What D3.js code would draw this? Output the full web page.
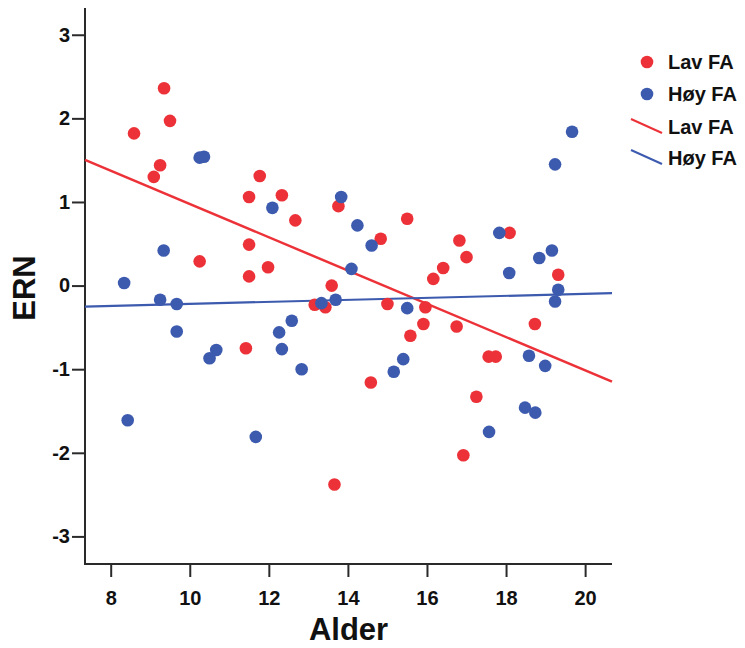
<!DOCTYPE html>
<html>
<head>
<meta charset="utf-8">
<script src="https://cdn.jsdelivr.net/npm/d3@7"></script>
<style>
  html, body { margin: 0; padding: 0; background: #fff; }
  svg { display: block; }
  text { font-family: "Liberation Sans", Arial, sans-serif; font-weight: bold; fill: #111; }
</style>
</head>
<body>
<svg id="chart" width="745" height="648"></svg>
<script>
// Lav FA group: age (Alder) and ERN
const lavAlder = [8.59, 9.35, 9.50, 9.25, 9.09, 10.25, 11.50, 11.77, 11.50, 11.50,
                  11.98, 12.33, 12.67, 11.42, 13.76, 14.83, 15.50, 13.59, 13.16, 13.43,
                  13.66, 15.00, 14.58, 15.96, 15.91, 15.58, 16.16, 16.41, 16.82, 17.00,
                  18.09, 19.32, 16.75, 18.73, 17.56, 17.74, 17.25, 16.92];
const lavERN   = [1.82, 2.36, 1.97, 1.44, 1.30, 0.29, 1.06, 1.31, 0.49, 0.11,
                  0.22, 1.08, 0.78, -0.75, 0.95, 0.56, 0.80, 0.00, -0.23, -0.26,
                  -2.38, -0.22, -1.16, -0.26, -0.46, -0.60, 0.08, 0.21, 0.54, 0.34,
                  0.63, 0.13, -0.49, -0.46, -0.85, -0.85, -1.33, -2.03];

// Høy FA group: age (Alder) and ERN
const hoyAlder = [8.34, 8.43, 9.25, 9.67, 9.67, 9.34, 10.25, 10.36, 10.67, 10.50,
                  11.67, 12.09, 12.26, 12.33, 12.58, 12.83, 13.33, 13.69, 13.83, 14.24,
                  14.60, 14.09, 15.16, 15.40, 15.50, 17.57, 17.83, 18.08, 18.58, 18.99,
                  18.48, 18.74, 18.84, 19.16, 19.24, 19.67, 19.32, 19.24];
const hoyERN   = [0.03, -1.61, -0.17, -0.22, -0.55, 0.42, 1.53, 1.54, -0.77, -0.87,
                  -1.81, 0.93, -0.56, -0.76, -0.42, -1.00, -0.21, -0.17, 1.06, 0.72,
                  0.48, 0.20, -1.03, -0.88, -0.27, -1.75, 0.63, 0.15, -0.84, -0.96,
                  -1.46, -1.52, 0.33, 0.42, 1.45, 1.84, -0.05, -0.19];

// Linear fit lines (intercept, slope) per group
const groupNames = ["Lav FA", "Høy FA"];
const fitIntercept = [2.966, -0.339];
const fitSlope = [-0.199, 0.012];

const xTicks = [8, 10, 12, 14, 16, 18, 20];
const yTicks = [-3, -2, -1, 0, 1, 2, 3];

const colors = ["#ec3238", "#3c5aae"];

const svg = d3.select("#chart");
const plotLeft = 85, plotRight = 612, plotTop = 8, plotBottom = 564;

const x = d3.scaleLinear().domain([7.35, 20.68]).range([plotLeft, plotRight]);
const y = d3.scaleLinear().domain([-3.33, 3.32]).range([plotBottom, plotTop]);

// Plain hyphen-minus for negative tick labels
const tickFmt = d => String(d);

// Axes
const xAxis = svg.append("g")
  .attr("transform", `translate(0,${plotBottom})`)
  .call(d3.axisBottom(x).tickValues(xTicks).tickFormat(tickFmt).tickSizeOuter(0).tickSize(13).tickPadding(14));
const yAxis = svg.append("g")
  .attr("transform", `translate(${plotLeft},0)`)
  .call(d3.axisLeft(y).tickValues(yTicks).tickFormat(tickFmt).tickSizeOuter(0).tickSize(13).tickPadding(2));

[xAxis, yAxis].forEach(g => {
  g.select(".domain").attr("stroke", "#2a2a2a").attr("stroke-width", 2);
  g.selectAll(".tick line").attr("stroke", "#2a2a2a").attr("stroke-width", 2);
  g.selectAll(".tick text")
    .attr("fill", "#111")
    .style("font-family", "'Liberation Sans', Arial, sans-serif")
    .style("font-weight", "bold")
    .style("font-size", "20px");
});
// Join both axis lines into a clean corner
yAxis.select(".domain").attr("d", `M0,${plotTop}V${plotBottom + 1}`);
xAxis.select(".domain").attr("d", `M${plotLeft - 1},0H${plotRight}`);

// Axis titles
svg.append("text")
  .attr("x", (plotLeft + plotRight) / 2)
  .attr("y", 640)
  .attr("text-anchor", "middle")
  .style("font-size", "31px")
  .text("Alder");
svg.append("text")
  .attr("transform", `translate(35,${(plotTop + plotBottom) / 2 + 2}) rotate(-90)`)
  .attr("text-anchor", "middle")
  .style("font-size", "31px")
  .text("ERN");

// Fit lines
const plot = svg.append("g");
const xd = x.domain();
fitIntercept.forEach((a, i) => {
  plot.append("line")
    .attr("x1", x(xd[0])).attr("y1", y(a + fitSlope[i] * xd[0]))
    .attr("x2", x(xd[1])).attr("y2", y(a + fitSlope[i] * xd[1]))
    .attr("stroke", colors[i])
    .attr("stroke-width", i === 0 ? 2.5 : 2.2);
});

// Points
const lavPts = lavAlder.map((v, i) => ({ x: v, y: lavERN[i] }));
const hoyPts = hoyAlder.map((v, i) => ({ x: v, y: hoyERN[i] }));
plot.selectAll("circle.lav").data(lavPts).join("circle")
  .attr("class", "lav")
  .attr("cx", d => x(d.x)).attr("cy", d => y(d.y)).attr("r", 6.3)
  .attr("fill", colors[0]);
plot.selectAll("circle.hoy").data(hoyPts).join("circle")
  .attr("class", "hoy")
  .attr("cx", d => x(d.x)).attr("cy", d => y(d.y)).attr("r", 6.3)
  .attr("fill", colors[1]);

// Legend
const legend = svg.append("g");
const legendRows = [
  { name: groupNames[0], color: colors[0], kind: "dot", cy: 62 },
  { name: groupNames[1], color: colors[1], kind: "dot", cy: 94 },
  { name: groupNames[0], color: colors[0], kind: "line", cy: 127 },
  { name: groupNames[1], color: colors[1], kind: "line", cy: 158 }
];
legendRows.forEach(r => {
  if (r.kind === "dot") {
    legend.append("circle").attr("cx", 647).attr("cy", r.cy).attr("r", 6.3).attr("fill", r.color);
  } else {
    legend.append("line")
      .attr("x1", 631).attr("y1", r.cy - 8)
      .attr("x2", 662).attr("y2", r.cy + 6)
      .attr("stroke", r.color).attr("stroke-width", 2);
  }
  legend.append("text")
    .attr("x", 668).attr("y", r.cy)
    .attr("dy", "0.36em")
    .style("font-size", "20px")
    .text(r.name);
});
</script>
</body>
</html>
